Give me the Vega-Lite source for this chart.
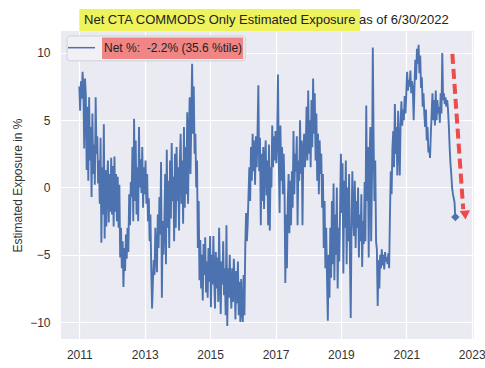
{
"$schema":"https://vega.github.io/schema/vega-lite/v6.json",
"width":413,"height":308,
"autosize":{"type":"none"},
"padding":{"left":61,"top":31,"right":11,"bottom":29},
"background":"white",
"config":{"view":{"stroke":null,"fill":"#EAEAF2"},"font":"Liberation Sans"},
"datasets":{"one":[{}],"main":[
{"t":2011,"v":7.5},{"t":2011.025,"v":5.7},{"t":2011.05,"v":7.9},{"t":2011.075,"v":6.6},{"t":2011.1,"v":8.6},{"t":2011.125,"v":7.4},{"t":2011.15,"v":2.9},{"t":2011.175,"v":8.1},{"t":2011.2,"v":6.8},{"t":2011.225,"v":1.3},{"t":2011.25,"v":6.0},{"t":2011.275,"v":0.5},{"t":2011.3,"v":6.7},{"t":2011.325,"v":2.0},{"t":2011.35,"v":4.5},{"t":2011.375,"v":-0.7},{"t":2011.4,"v":5.5},{"t":2011.425,"v":1.0},{"t":2011.45,"v":3.2},{"t":2011.475,"v":0.2},{"t":2011.5,"v":6.7},{"t":2011.525,"v":2.5},{"t":2011.55,"v":3.8},{"t":2011.575,"v":0.3},{"t":2011.6,"v":2.0},{"t":2011.625,"v":-1.2},{"t":2011.65,"v":3.7},{"t":2011.675,"v":-4.1},{"t":2011.7,"v":1.5},{"t":2011.725,"v":-2.0},{"t":2011.75,"v":4.7},{"t":2011.775,"v":-3.8},{"t":2011.8,"v":1.3},{"t":2011.825,"v":-2.9},{"t":2011.85,"v":0.5},{"t":2011.875,"v":2.0},{"t":2011.9,"v":-2.6},{"t":2011.925,"v":1.0},{"t":2011.95,"v":-1.8},{"t":2011.975,"v":2.2},
{"t":2012,"v":-2.0},{"t":2012.025,"v":1.6},{"t":2012.05,"v":-2.9},{"t":2012.075,"v":2.3},{"t":2012.1,"v":-1.8},{"t":2012.125,"v":1.0},{"t":2012.15,"v":-2.5},{"t":2012.175,"v":0.8},{"t":2012.2,"v":-3.0},{"t":2012.225,"v":0.2},{"t":2012.25,"v":-5.2},{"t":2012.275,"v":-3.0},{"t":2012.3,"v":-6.0},{"t":2012.325,"v":-4.0},{"t":2012.35,"v":-7.4},{"t":2012.375,"v":-4.5},{"t":2012.4,"v":-6.2},{"t":2012.425,"v":-3.5},{"t":2012.45,"v":-5.3},{"t":2012.475,"v":-3.0},{"t":2012.5,"v":-4.8},{"t":2012.525,"v":-0.5},{"t":2012.55,"v":-2.8},{"t":2012.575,"v":0.4},{"t":2012.6,"v":-0.7},{"t":2012.625,"v":3.0},{"t":2012.65,"v":-2.5},{"t":2012.675,"v":5.1},{"t":2012.7,"v":-1.0},{"t":2012.725,"v":3.5},{"t":2012.75,"v":-2.0},{"t":2012.775,"v":1.5},{"t":2012.8,"v":-2.5},{"t":2012.825,"v":4.5},{"t":2012.85,"v":0.0},{"t":2012.875,"v":2.1},{"t":2012.9,"v":-0.4},{"t":2012.925,"v":3.0},{"t":2012.95,"v":-1.5},{"t":2012.975,"v":1.5},
{"t":2013,"v":-0.5},{"t":2013.025,"v":2.0},{"t":2013.05,"v":-1.2},{"t":2013.075,"v":1.0},{"t":2013.1,"v":-2.5},{"t":2013.125,"v":-0.8},{"t":2013.15,"v":-4.0},{"t":2013.175,"v":-2.0},{"t":2013.2,"v":-6.0},{"t":2013.225,"v":-9.0},{"t":2013.25,"v":-7.0},{"t":2013.275,"v":-5.4},{"t":2013.3,"v":-6.5},{"t":2013.325,"v":-3.0},{"t":2013.35,"v":-5.0},{"t":2013.375,"v":-6.3},{"t":2013.4,"v":-2.0},{"t":2013.425,"v":-4.5},{"t":2013.45,"v":-0.7},{"t":2013.475,"v":-3.5},{"t":2013.5,"v":1.9},{"t":2013.525,"v":-8.2},{"t":2013.55,"v":-2.5},{"t":2013.575,"v":-5.0},{"t":2013.6,"v":-2.7},{"t":2013.625,"v":1.0},{"t":2013.65,"v":-5.7},{"t":2013.675,"v":2.8},{"t":2013.7,"v":-3.0},{"t":2013.725,"v":0.5},{"t":2013.75,"v":-4.5},{"t":2013.775,"v":2.0},{"t":2013.8,"v":-2.3},{"t":2013.825,"v":3.3},{"t":2013.85,"v":-1.0},{"t":2013.875,"v":0.8},{"t":2013.9,"v":-4.0},{"t":2013.925,"v":2.5},{"t":2013.95,"v":-3.0},{"t":2013.975,"v":3.0},
{"t":2014,"v":-1.0},{"t":2014.025,"v":1.5},{"t":2014.05,"v":-3.2},{"t":2014.075,"v":2.0},{"t":2014.1,"v":4.0},{"t":2014.125,"v":-1.2},{"t":2014.15,"v":2.0},{"t":2014.175,"v":-2.7},{"t":2014.2,"v":4.5},{"t":2014.225,"v":-1.5},{"t":2014.25,"v":3.0},{"t":2014.275,"v":-0.5},{"t":2014.3,"v":5.6},{"t":2014.325,"v":-1.2},{"t":2014.35,"v":3.5},{"t":2014.375,"v":6.7},{"t":2014.4,"v":1.0},{"t":2014.425,"v":5.0},{"t":2014.45,"v":9.2},{"t":2014.475,"v":4.0},{"t":2014.5,"v":7.5},{"t":2014.525,"v":2.5},{"t":2014.55,"v":4.0},{"t":2014.575,"v":0.0},{"t":2014.6,"v":2.0},{"t":2014.625,"v":-4.5},{"t":2014.65,"v":-1.0},{"t":2014.675,"v":-6.9},{"t":2014.7,"v":-3.9},{"t":2014.725,"v":-7.5},{"t":2014.75,"v":-5.0},{"t":2014.775,"v":-8.4},{"t":2014.8,"v":-4.2},{"t":2014.825,"v":-6.5},{"t":2014.85,"v":-3.7},{"t":2014.875,"v":-7.8},{"t":2014.9,"v":-5.5},{"t":2014.925,"v":-8.2},{"t":2014.95,"v":-4.5},{"t":2014.975,"v":-7.0},
{"t":2015,"v":-3.6},{"t":2015.025,"v":-8.9},{"t":2015.05,"v":-5.0},{"t":2015.075,"v":-7.2},{"t":2015.1,"v":-3.6},{"t":2015.125,"v":-6.8},{"t":2015.15,"v":-9.0},{"t":2015.175,"v":-4.8},{"t":2015.2,"v":-7.5},{"t":2015.225,"v":-5.2},{"t":2015.25,"v":-8.5},{"t":2015.275,"v":-3.0},{"t":2015.3,"v":-6.5},{"t":2015.325,"v":-9.4},{"t":2015.35,"v":-5.5},{"t":2015.375,"v":-7.2},{"t":2015.4,"v":-4.0},{"t":2015.425,"v":-8.0},{"t":2015.45,"v":-6.0},{"t":2015.475,"v":-9.5},{"t":2015.5,"v":-2.8},{"t":2015.525,"v":-10.3},{"t":2015.55,"v":-6.0},{"t":2015.575,"v":-8.2},{"t":2015.6,"v":-5.0},{"t":2015.625,"v":-7.5},{"t":2015.65,"v":-9.0},{"t":2015.675,"v":-6.0},{"t":2015.7,"v":-8.5},{"t":2015.725,"v":-5.3},{"t":2015.75,"v":-7.0},{"t":2015.775,"v":-9.8},{"t":2015.8,"v":-6.2},{"t":2015.825,"v":-8.6},{"t":2015.85,"v":-5.5},{"t":2015.875,"v":-9.5},{"t":2015.9,"v":-7.0},{"t":2015.925,"v":-10.0},{"t":2015.95,"v":-6.8},{"t":2015.975,"v":-9.2},
{"t":2016,"v":-10.0},{"t":2016.025,"v":-6.5},{"t":2016.05,"v":-9.5},{"t":2016.075,"v":-4.5},{"t":2016.1,"v":-1.9},{"t":2016.125,"v":-4.0},{"t":2016.15,"v":-2.7},{"t":2016.175,"v":-0.5},{"t":2016.2,"v":1.5},{"t":2016.225,"v":-1.0},{"t":2016.25,"v":3.0},{"t":2016.275,"v":0.5},{"t":2016.3,"v":4.0},{"t":2016.325,"v":1.2},{"t":2016.35,"v":3.5},{"t":2016.375,"v":0.2},{"t":2016.4,"v":3.8},{"t":2016.425,"v":1.5},{"t":2016.45,"v":4.0},{"t":2016.475,"v":7.6},{"t":2016.5,"v":1.2},{"t":2016.525,"v":3.7},{"t":2016.55,"v":-2.8},{"t":2016.575,"v":2.5},{"t":2016.6,"v":-1.0},{"t":2016.625,"v":3.0},{"t":2016.65,"v":-1.6},{"t":2016.675,"v":2.0},{"t":2016.7,"v":3.5},{"t":2016.725,"v":-0.6},{"t":2016.75,"v":2.0},{"t":2016.775,"v":-2.8},{"t":2016.8,"v":3.2},{"t":2016.825,"v":-3.2},{"t":2016.85,"v":1.5},{"t":2016.875,"v":0.0},{"t":2016.9,"v":4.6},{"t":2016.925,"v":1.5},{"t":2016.95,"v":3.8},{"t":2016.975,"v":2.0},
{"t":2017,"v":4.2},{"t":2017.025,"v":1.8},{"t":2017.05,"v":3.5},{"t":2017.075,"v":8.4},{"t":2017.1,"v":2.0},{"t":2017.125,"v":-1.9},{"t":2017.15,"v":4.6},{"t":2017.175,"v":0.5},{"t":2017.2,"v":3.0},{"t":2017.225,"v":-0.5},{"t":2017.25,"v":2.5},{"t":2017.275,"v":0.0},{"t":2017.3,"v":-7.1},{"t":2017.325,"v":-2.0},{"t":2017.35,"v":-6.0},{"t":2017.375,"v":-1.0},{"t":2017.4,"v":1.0},{"t":2017.425,"v":-3.4},{"t":2017.45,"v":0.5},{"t":2017.475,"v":-2.8},{"t":2017.5,"v":1.2},{"t":2017.525,"v":-1.5},{"t":2017.55,"v":4.2},{"t":2017.575,"v":-0.5},{"t":2017.6,"v":2.5},{"t":2017.625,"v":1.2},{"t":2017.65,"v":3.8},{"t":2017.675,"v":-2.8},{"t":2017.7,"v":2.0},{"t":2017.725,"v":0.5},{"t":2017.75,"v":5.0},{"t":2017.775,"v":1.0},{"t":2017.8,"v":3.5},{"t":2017.825,"v":-2.8},{"t":2017.85,"v":2.5},{"t":2017.875,"v":4.0},{"t":2017.9,"v":1.5},{"t":2017.925,"v":3.0},{"t":2017.95,"v":6.0},{"t":2017.975,"v":2.0},
{"t":2018,"v":7.2},{"t":2018.025,"v":2.5},{"t":2018.05,"v":5.0},{"t":2018.075,"v":1.5},{"t":2018.1,"v":6.5},{"t":2018.125,"v":3.0},{"t":2018.15,"v":8.1},{"t":2018.175,"v":4.0},{"t":2018.2,"v":7.0},{"t":2018.225,"v":2.0},{"t":2018.25,"v":5.5},{"t":2018.275,"v":0.5},{"t":2018.3,"v":4.0},{"t":2018.325,"v":-0.5},{"t":2018.35,"v":3.5},{"t":2018.375,"v":1.0},{"t":2018.4,"v":2.5},{"t":2018.425,"v":-1.5},{"t":2018.45,"v":1.0},{"t":2018.475,"v":-4.5},{"t":2018.5,"v":-1.0},{"t":2018.525,"v":-6.0},{"t":2018.55,"v":-3.0},{"t":2018.575,"v":-6.7},{"t":2018.6,"v":-9.9},{"t":2018.625,"v":-5.0},{"t":2018.65,"v":-8.2},{"t":2018.675,"v":-3.0},{"t":2018.7,"v":-6.7},{"t":2018.725,"v":-1.0},{"t":2018.75,"v":-5.7},{"t":2018.775,"v":0.3},{"t":2018.8,"v":-6.9},{"t":2018.825,"v":-2.0},{"t":2018.85,"v":-5.0},{"t":2018.875,"v":0.0},{"t":2018.9,"v":-7.5},{"t":2018.925,"v":-3.0},{"t":2018.95,"v":-5.5},{"t":2018.975,"v":-1.5},
{"t":2019,"v":2.5},{"t":2019.025,"v":-1.9},{"t":2019.05,"v":1.8},{"t":2019.075,"v":-6.4},{"t":2019.1,"v":0.5},{"t":2019.125,"v":-3.0},{"t":2019.15,"v":2.0},{"t":2019.175,"v":-5.7},{"t":2019.2,"v":0.0},{"t":2019.225,"v":-4.0},{"t":2019.25,"v":1.0},{"t":2019.275,"v":-5.0},{"t":2019.3,"v":-9.7},{"t":2019.325,"v":-3.0},{"t":2019.35,"v":1.2},{"t":2019.375,"v":-2.2},{"t":2019.4,"v":-3.6},{"t":2019.425,"v":0.5},{"t":2019.45,"v":-4.5},{"t":2019.475,"v":-1.0},{"t":2019.5,"v":-3.0},{"t":2019.525,"v":0.0},{"t":2019.55,"v":-5.2},{"t":2019.575,"v":-2.0},{"t":2019.6,"v":-4.0},{"t":2019.625,"v":-0.5},{"t":2019.65,"v":-5.9},{"t":2019.675,"v":-2.5},{"t":2019.7,"v":-4.2},{"t":2019.725,"v":0.4},{"t":2019.75,"v":-4.0},{"t":2019.775,"v":6.1},{"t":2019.8,"v":-1.0},{"t":2019.825,"v":3.0},{"t":2019.85,"v":-5.2},{"t":2019.875,"v":2.0},{"t":2019.9,"v":4.5},{"t":2019.925,"v":-4.0},{"t":2019.95,"v":0.5},{"t":2019.975,"v":10.4},
{"t":2020,"v":3.5},{"t":2020.025,"v":-1.0},{"t":2020.05,"v":2.0},{"t":2020.075,"v":-4.0},{"t":2020.1,"v":-4.6},{"t":2020.125,"v":-8.8},{"t":2020.15,"v":-5.4},{"t":2020.175,"v":-7.5},{"t":2020.2,"v":-5.0},{"t":2020.225,"v":-6.0},{"t":2020.25,"v":-4.6},{"t":2020.275,"v":-5.8},{"t":2020.3,"v":-5.0},{"t":2020.325,"v":-6.1},{"t":2020.35,"v":-4.8},{"t":2020.375,"v":-5.5},{"t":2020.4,"v":-5.2},{"t":2020.425,"v":-5.7},{"t":2020.45,"v":-4.9},{"t":2020.475,"v":-6.0},{"t":2020.5,"v":-2.0},{"t":2020.525,"v":1.2},{"t":2020.55,"v":-0.5},{"t":2020.575,"v":2.9},{"t":2020.6,"v":4.2},{"t":2020.625,"v":1.5},{"t":2020.65,"v":6.2},{"t":2020.675,"v":2.5},{"t":2020.7,"v":4.5},{"t":2020.725,"v":0.9},{"t":2020.75,"v":5.7},{"t":2020.775,"v":3.0},{"t":2020.8,"v":0.9},{"t":2020.825,"v":4.8},{"t":2020.85,"v":6.4},{"t":2020.875,"v":4.6},{"t":2020.9,"v":5.8},{"t":2020.925,"v":5.0},{"t":2020.95,"v":6.8},{"t":2020.975,"v":5.5},
{"t":2021,"v":7.0},{"t":2021.025,"v":8.6},{"t":2021.05,"v":7.2},{"t":2021.075,"v":8.0},{"t":2021.1,"v":7.5},{"t":2021.125,"v":8.7},{"t":2021.15,"v":7.0},{"t":2021.175,"v":7.9},{"t":2021.2,"v":7.3},{"t":2021.225,"v":5.0},{"t":2021.25,"v":7.5},{"t":2021.275,"v":9.5},{"t":2021.3,"v":8.0},{"t":2021.325,"v":10.3},{"t":2021.35,"v":9.2},{"t":2021.375,"v":10.6},{"t":2021.4,"v":8.5},{"t":2021.425,"v":9.8},{"t":2021.45,"v":7.4},{"t":2021.475,"v":8.2},{"t":2021.5,"v":6.0},{"t":2021.525,"v":7.0},{"t":2021.55,"v":5.5},{"t":2021.575,"v":4.5},{"t":2021.6,"v":5.8},{"t":2021.625,"v":3.5},{"t":2021.65,"v":4.5},{"t":2021.675,"v":2.6},{"t":2021.7,"v":3.0},{"t":2021.725,"v":2.2},{"t":2021.75,"v":4.0},{"t":2021.775,"v":5.5},{"t":2021.8,"v":7.0},{"t":2021.825,"v":5.0},{"t":2021.85,"v":6.5},{"t":2021.875,"v":4.6},{"t":2021.9,"v":7.2},{"t":2021.925,"v":5.0},{"t":2021.95,"v":6.5},{"t":2021.975,"v":5.5},
{"t":2022,"v":6.0},{"t":2022.025,"v":4.8},{"t":2022.05,"v":7.0},{"t":2022.075,"v":5.5},{"t":2022.1,"v":10.0},{"t":2022.125,"v":6.5},{"t":2022.15,"v":7.0},{"t":2022.175,"v":6.2},{"t":2022.2,"v":6.7},{"t":2022.225,"v":6.0},{"t":2022.25,"v":6.5},{"t":2022.275,"v":5.8},{"t":2022.3,"v":4.6},{"t":2022.325,"v":3.0},{"t":2022.35,"v":1.8},{"t":2022.375,"v":1.0},{"t":2022.4,"v":0.0},{"t":2022.425,"v":-0.5},{"t":2022.45,"v":-0.8},{"t":2022.475,"v":-1.1},{"t":2022.495,"v":-2.2}
]},
"layer":[
{"data":{"name":"one"},"mark":{"type":"rect","fill":"#EEF25C"},
 "encoding":{"x":{"datum":2011.0,"type":"quantitative"},"x2":{"datum":2019.59},"y":{"datum":13.27,"type":"quantitative"},"y2":{"datum":11.63}}},
{"data":{"name":"one"},"mark":{"type":"text","text":"Net CTA COMMODS Only Estimated Exposure as of 6/30/2022","align":"left","baseline":"middle","font":"Liberation Sans","fontSize":13,"color":"#222222"},
 "encoding":{"x":{"datum":2011.144,"type":"quantitative"},"y":{"datum":12.45,"type":"quantitative"}}},
{"data":{"name":"main"},
 "mark":{"type":"line","color":"#4C72B0","strokeWidth":1.9},
 "encoding":{
  "x":{"field":"t","type":"quantitative","scale":{"domain":[2010.44,2023.07],"nice":false,"zero":false},
       "axis":{"values":[2011,2013,2015,2017,2019,2021,2023],"format":"d","title":null,"grid":true,"gridColor":"white","gridWidth":1.2,"domain":false,"ticks":false,"tickSize":0,"labelPadding":10,"labelFontSize":12,"labelColor":"#333333","labelFont":"Liberation Sans"}},
  "y":{"field":"v","type":"quantitative","scale":{"domain":[-11.26,11.63],"nice":false,"zero":false},
       "axis":{"values":[-10,-5,0,5,10],"title":"Estimated Exposure in %","titleFontSize":12,"titleFontWeight":"normal","titleColor":"#333333","titleFont":"Liberation Sans","titlePadding":5,"grid":true,"gridColor":"white","gridWidth":1.2,"domain":false,"ticks":false,"tickSize":0,"labelPadding":11,"labelFontSize":12,"labelColor":"#333333","labelFont":"Liberation Sans"}}}},
{"data":{"name":"one"},"mark":{"type":"point","shape":"diamond","filled":true,"size":70,"color":"#4C72B0","opacity":1},
 "encoding":{"x":{"datum":2022.5,"type":"quantitative"},"y":{"datum":-2.2,"type":"quantitative"}}},
{"data":{"name":"one"},"mark":{"type":"rule","color":"#EE4B4B","strokeWidth":4,"strokeDash":[10,5]},
 "encoding":{"x":{"datum":2022.408,"type":"quantitative"},"x2":{"datum":2022.74},"y":{"datum":9.93,"type":"quantitative"},"y2":{"datum":-1.6}}},
{"data":{"name":"one"},"mark":{"type":"point","shape":"triangle-down","filled":true,"size":110,"color":"#EE4B4B","opacity":1,"angle":-4},
 "encoding":{"x":{"datum":2022.80,"type":"quantitative"},"y":{"datum":-2.05,"type":"quantitative"}}},
{"data":{"name":"one"},"mark":{"type":"rect","fill":"#F0F0F5","stroke":"#CFCFD7","strokeWidth":1,"cornerRadius":3},
 "encoding":{"x":{"datum":2010.624,"type":"quantitative"},"x2":{"datum":2016.072},"y":{"datum":11.26,"type":"quantitative"},"y2":{"datum":9.41}}},
{"data":{"name":"one"},"mark":{"type":"rect","fill":"#EF8585"},
 "encoding":{"x":{"datum":2011.695,"type":"quantitative"},"x2":{"datum":2016.01},"y":{"datum":11.15,"type":"quantitative"},"y2":{"datum":9.55}}},
{"data":{"name":"one"},"mark":{"type":"rule","color":"#4C72B0","strokeWidth":1.5},
 "encoding":{"x":{"datum":2010.654,"type":"quantitative"},"x2":{"datum":2011.48},"y":{"datum":10.39,"type":"quantitative"}}},
{"data":{"name":"one"},"mark":{"type":"text","text":"Net %:\u00a0 -2.2% (35.6 %tile)","align":"left","baseline":"middle","font":"Liberation Sans","fontSize":12,"color":"#222222"},
 "encoding":{"x":{"datum":2011.756,"type":"quantitative"},"y":{"datum":10.4,"type":"quantitative"}}}
]
}
